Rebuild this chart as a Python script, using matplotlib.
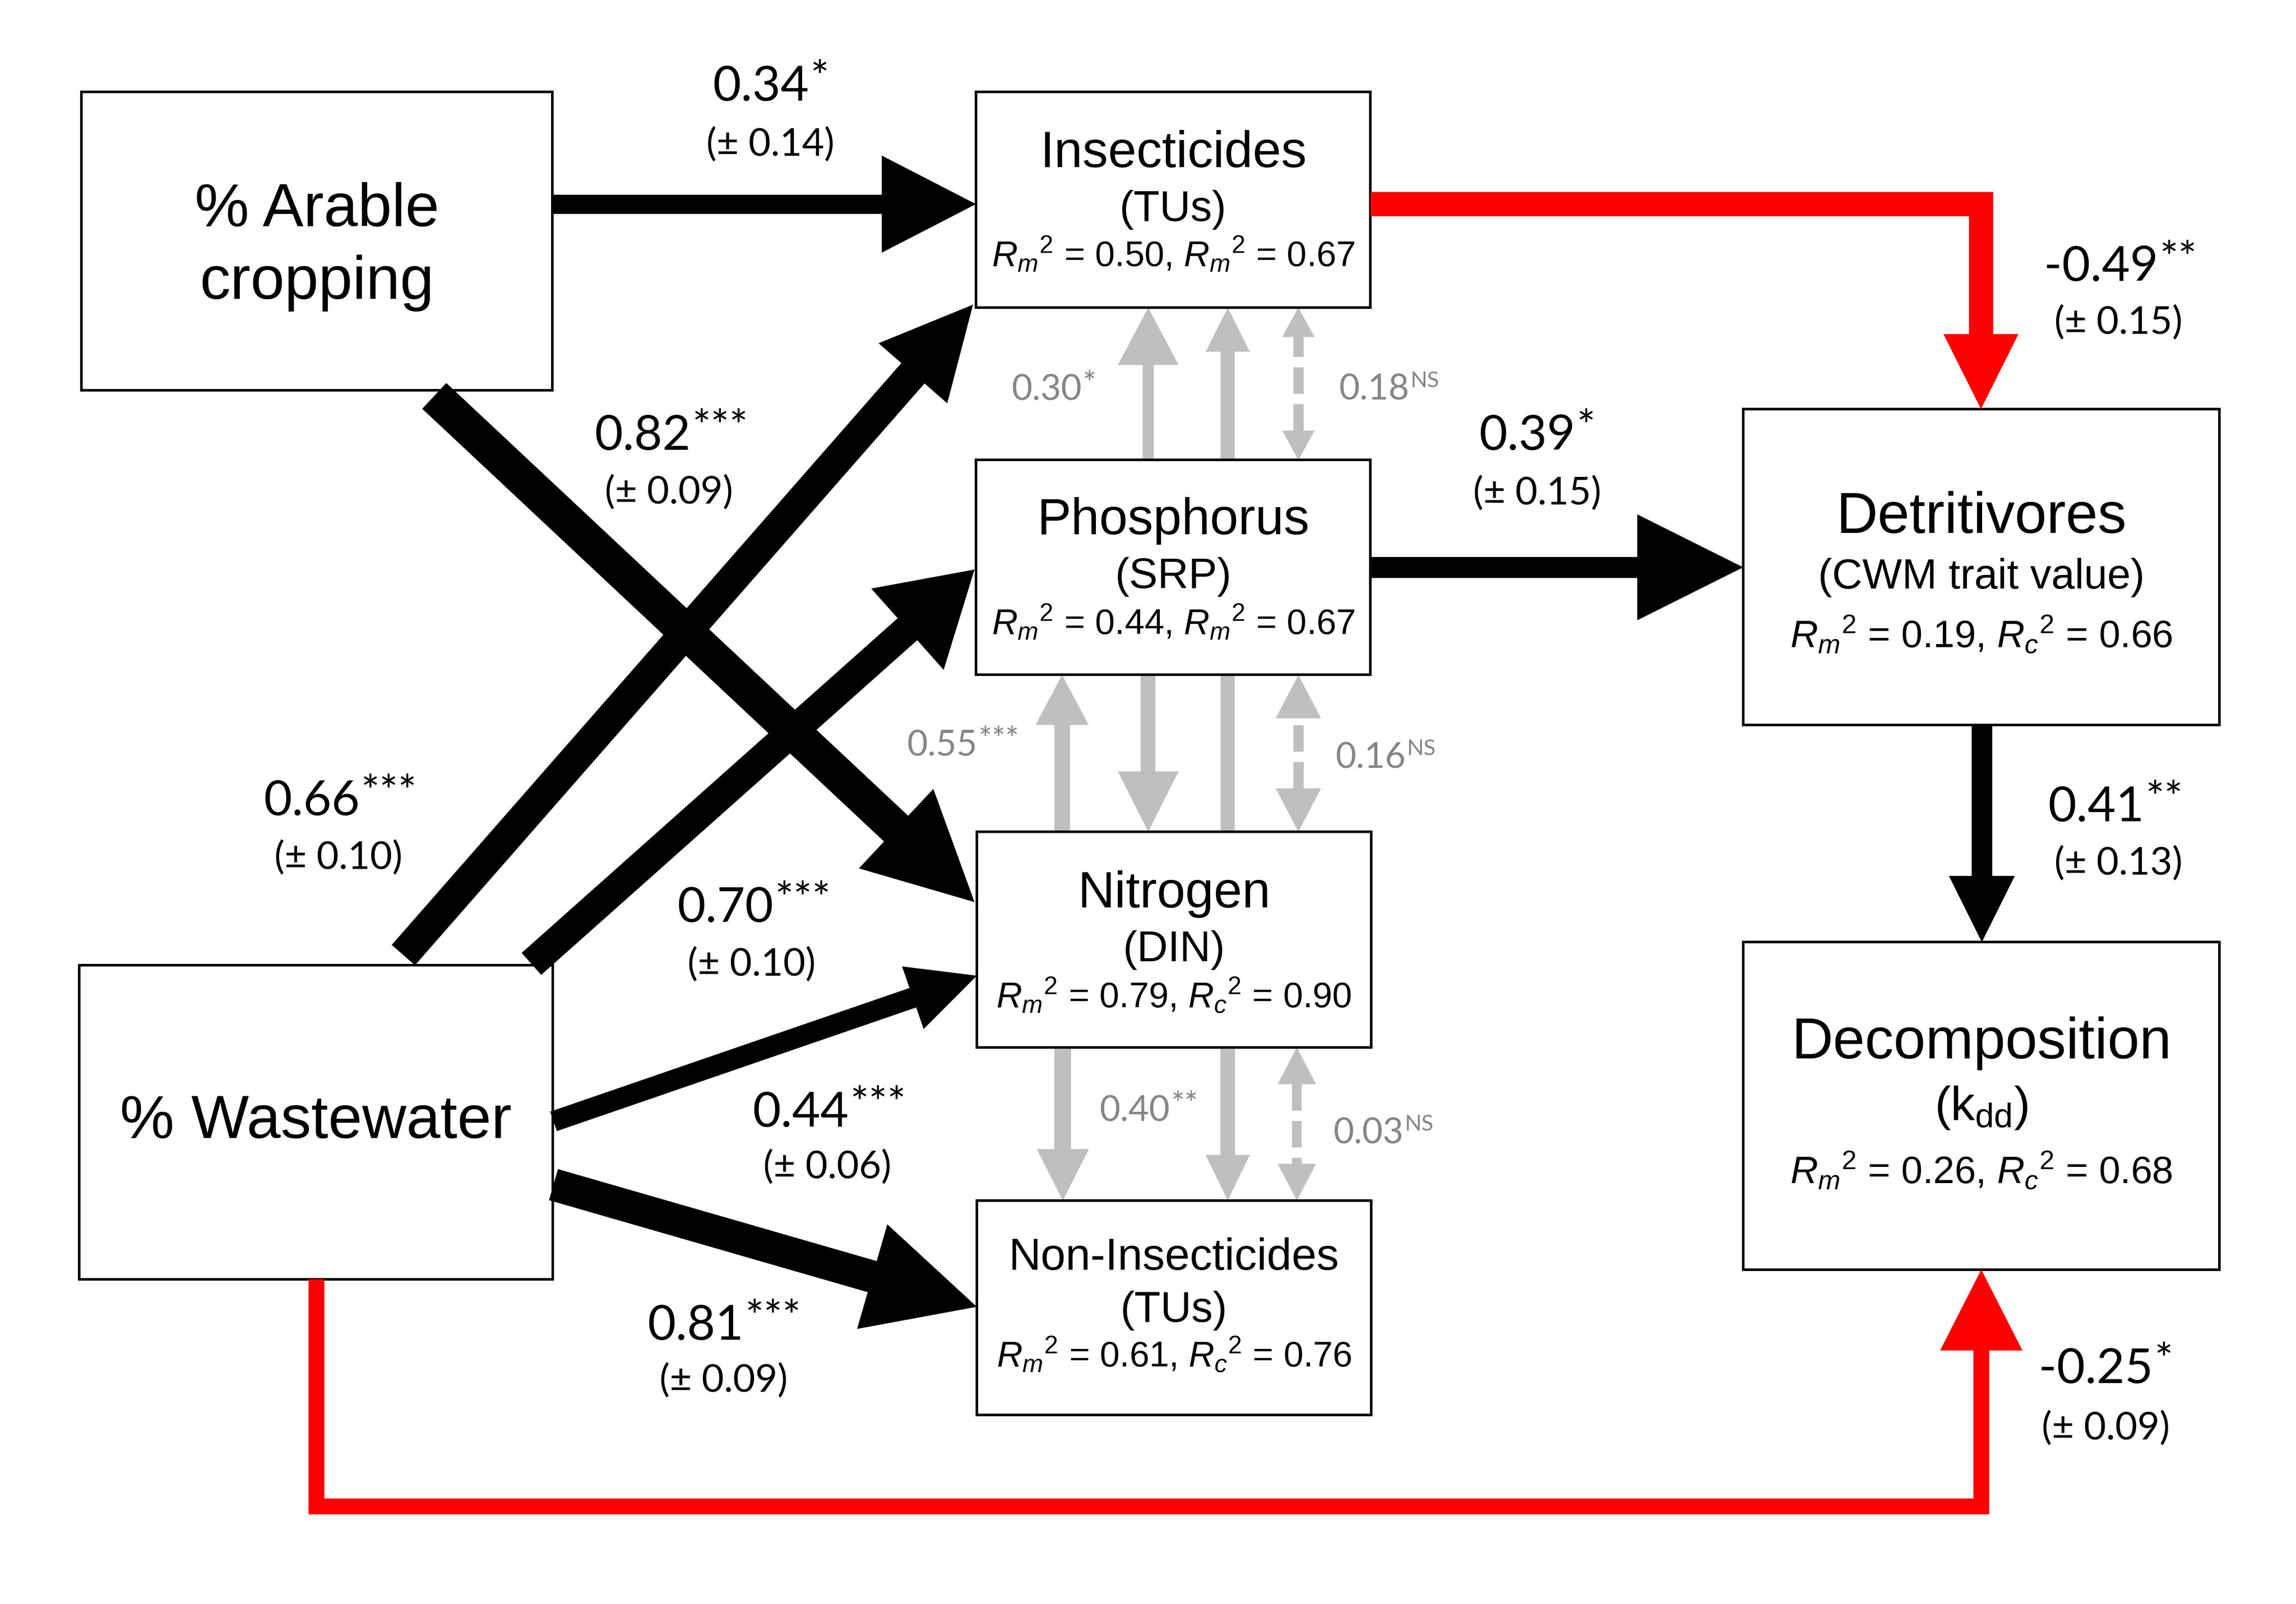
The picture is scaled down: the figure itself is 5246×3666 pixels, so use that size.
import numpy as np
import matplotlib
matplotlib.use('Agg')
import matplotlib.pyplot as plt
from matplotlib.patches import Polygon, Rectangle

# ---- values ----
node_keys = ['arable', 'wastewater', 'insecticides', 'phosphorus',
             'nitrogen', 'noninsecticides', 'detritivores', 'decomposition']
node_titles = ['% Arable\ncropping', '% Wastewater', 'Insecticides', 'Phosphorus',
               'Nitrogen', 'Non-Insecticides', 'Detritivores', 'Decomposition']
node_units = ['', '', '(TUs)', '(SRP)', '(DIN)', '(TUs)', '(CWM trait value)',
              r'(k$_{\mathrm{dd}}$)']
r2_marginal = [None, None, 0.50, 0.44, 0.79, 0.61, 0.19, 0.26]
r2_conditional = [None, None, 0.67, 0.67, 0.90, 0.76, 0.66, 0.68]
r2_second_sub = ['', '', 'm', 'm', 'c', 'c', 'c', 'c']  # original repeats R_m in two boxes

path_from = ['arable', 'arable', 'wastewater', 'wastewater', 'wastewater',
             'wastewater', 'insecticides', 'phosphorus', 'detritivores', 'wastewater']
path_to = ['insecticides', 'nitrogen', 'insecticides', 'phosphorus', 'nitrogen',
           'noninsecticides', 'detritivores', 'detritivores', 'decomposition', 'decomposition']
path_coef = [0.34, 0.82, 0.66, 0.70, 0.44, 0.81, -0.49, 0.39, 0.41, -0.25]
path_se = [0.14, 0.09, 0.10, 0.10, 0.06, 0.09, 0.15, 0.15, 0.13, 0.09]
path_sig = ['*', '***', '***', '***', '***', '***', '**', '*', '**', '*']

corr_coef = [0.30, 0.18, 0.55, 0.16, 0.40, 0.03]
corr_sig = ['*', 'NS', '***', 'NS', '**', 'NS']

# ---- layout (units = pixels of a 1560 wide drawing) ----
W_PX, H_PX, DPI = 5247, 3666, 300
W = 1560.0
H = W * H_PX / W_PX
PT = (W_PX / DPI * 72) / W      # points per layout unit

node_layout = {
    'arable':          dict(box=(55.3, 62.5, 375.3, 265.2), title=([91.1, 140.5], 33.5)),
    'wastewater':      dict(box=(53.7, 655.9, 375.5, 869.4), title=([117.5], 33.5)),
    'insecticides':    dict(box=(663.0, 62.5, 931.0, 209.0), title=([51.0], 28), unit=(87.5, 23.5), r2=(118.5, 19.5)),
    'phosphorus':      dict(box=(663.0, 312.6, 931.0, 458.6), title=([50.5], 28), unit=(87.0, 23.5), r2=(118.5, 19.5)),
    'nitrogen':        dict(box=(663.6, 565.2, 931.4, 711.7), title=([51.5], 28), unit=(88.0, 23.5), r2=(119.5, 19.5)),
    'noninsecticides': dict(box=(663.6, 815.8, 931.4, 961.4), title=([47.0], 24.5), unit=(82.5, 23.5), r2=(113.0, 19.5)),
    'detritivores':    dict(box=(1184.2, 278.0, 1507.6, 492.5), title=([84.0], 31.5), unit=(122.0, 23), r2=(162.0, 21)),
    'decomposition':   dict(box=(1184.2, 640.2, 1507.6, 862.7), title=([79.0], 31.5), unit=(121.0, 26.5), r2=(164.0, 21)),
}

path_layout = [
    dict(route=[(375.3, 138.7), (663.0, 138.7)], width=13.0, head=(33.0, 64.0), num=(517.0, 68.4), se=(523.3, 106.0)),
    dict(route=[(295.0, 269.0), (662.0, 613.0)], width=24.0, head=(37.0, 73.0), num=(436.5, 305.5), se=(454.4, 342.3)),
    dict(route=[(274.0, 649.0), (661.0, 207.0)], width=21.0, head=(31.0, 62.0), num=(211.7, 554.0), se=(229.9, 590.5)),
    dict(route=[(361.0, 655.0), (662.0, 387.0)], width=20.0, head=(37.0, 61.0), num=(492.7, 626.5), se=(510.7, 663.0)),
    dict(route=[(376.0, 762.0), (663.6, 663.0)], width=14.0, head=(22.5, 46.0), num=(544.0, 765.6), se=(562.0, 800.8)),
    dict(route=[(376.0, 805.0), (663.6, 888.0)], width=22.0, head=(37.0, 74.0), num=(472.5, 910.5), se=(491.5, 945.7)),
    dict(route=[(931.0, 138.6), (1345.7, 138.6), (1345.7, 278.0)], width=16.5, head=(25.5, 51.0), num=(1427.3, 191.0), se=(1439.0, 227.0)),
    dict(route=[(931.0, 385.5), (1184.2, 385.5)], width=14.3, head=(36.0, 72.0), num=(1037.4, 305.5), se=(1044.3, 343.0)),
    dict(route=[(1346.3, 492.5), (1346.3, 640.2)], width=14.0, head=(22.4, 45.0), num=(1424.0, 558.0), se=(1439.0, 594.4)),
    dict(route=[(215.0, 869.4), (215.0, 1023.5), (1345.9, 1023.5), (1345.9, 862.7)], width=10.8, head=(28.0, 55.0), num=(1423.7, 939.9), se=(1430.5, 978.2)),
]

# x, tail y, tip y, shaft width, head half width, head length, kind
grey_arrows = [
    (780.0, 312.6, 209.0, 7.5, 20.6, 39.0, 'single'),
    (834.0, 312.6, 209.0, 9.6, 15.0, 30.0, 'single'),
    (882.0, 312.6, 209.0, 7.0, 11.0, 20.0, 'double'),
    (721.5, 565.2, 458.6, 10.6, 18.0, 34.0, 'single'),
    (780.0, 458.6, 565.2, 10.0, 20.6, 41.0, 'single'),
    (834.0, 458.6, 565.2, 9.6, 0.0, 0.0, 'line'),
    (882.0, 565.2, 458.6, 7.0, 15.4, 29.5, 'double'),
    (722.0, 711.7, 815.8, 11.4, 17.7, 35.0, 'single'),
    (834.0, 711.7, 815.8, 10.0, 15.0, 31.0, 'single'),
    (881.0, 711.7, 815.8, 6.6, 13.0, 25.0, 'double'),
]
corr_layout = [(711.0, 272.0), (933.5, 271.7), (640.0, 513.6),
               (931.0, 522.0), (771.0, 761.8), (929.5, 777.0)]

BOX_FONT = ['Liberation Sans', 'DejaVu Sans']
LABEL_FONT = ['Lato', 'DejaVu Sans']
GREY_ARROW = '#BFBFBF'
GREY_TEXT = '#868686'

plt.rcParams['mathtext.fontset'] = 'custom'
plt.rcParams['mathtext.rm'] = 'Liberation Sans'
plt.rcParams['mathtext.it'] = 'Liberation Sans:italic'
plt.rcParams['mathtext.bf'] = 'Liberation Sans:bold'

fig = plt.figure(figsize=(W_PX / DPI, H_PX / DPI), dpi=DPI)
ax = fig.add_axes([0, 0, 1, 1])
ax.set_xlim(0, W)
ax.set_ylim(H, 0)
ax.axis('off')
renderer = fig.canvas.get_renderer()


def head_triangle(tip, u, half_w, length, color, z):
    tip = np.asarray(tip, float)
    n = np.array([-u[1], u[0]])
    base = tip - u * length
    ax.add_patch(Polygon([tip, base + n * half_w, base - n * half_w],
                         closed=True, fc=color, ec='none', zorder=z))


def arrow(route, width, half_w, length, color, z=4, both=False, dashed=False):
    pts = np.asarray(route, float)
    shaft = pts.copy()
    u_end = pts[-1] - pts[-2]
    u_end /= np.hypot(*u_end)
    u_start = pts[0] - pts[1]
    u_start /= np.hypot(*u_start)
    if length > 0:
        shaft[-1] = pts[-1] - u_end * length * (1.0 if dashed else 0.6)
        if both:
            shaft[0] = pts[0] - u_start * length * (1.0 if dashed else 0.6)
    ls = (0, (18.0 / width, 7.0 / width)) if dashed else '-'
    ax.plot(shaft[:, 0], shaft[:, 1], color=color, lw=width * PT, ls=ls,
            solid_capstyle='butt', dash_capstyle='butt',
            solid_joinstyle='miter', zorder=z)
    if length > 0:
        head_triangle(pts[-1], u_end, half_w, length, color, z)
        if both:
            head_triangle(pts[0], u_start, half_w, length, color, z)


def label_with_sup(x, y, main, sup, size, color):
    t = ax.text(x, y, main, ha='center', va='baseline', fontsize=size,
                color=color, family=LABEL_FONT, zorder=6)
    bb = t.get_window_extent(renderer).transformed(ax.transData.inverted())
    em = size / PT
    if '*' in sup:
        sup_size, rise = size * 0.9, 0.17 * em
    else:
        sup_size, rise = size * 0.62, 0.36 * em
    ax.text(max(bb.x0, bb.x1) + 0.03 * em, y - rise, sup, ha='left',
            va='baseline', fontsize=sup_size, color=color,
            family=LABEL_FONT, zorder=6)


# boxes and their text
for i, key in enumerate(node_keys):
    lay = node_layout[key]
    x0, y0, x1, y1 = lay['box']
    ax.add_patch(Rectangle((x0, y0), x1 - x0, y1 - y0, fc='white', ec='black',
                           lw=1.4, zorder=3))
    xc = (x0 + x1) / 2
    offsets, size = lay['title']
    for line, off in zip(node_titles[i].split('\n'), offsets):
        ax.text(xc, y0 + off, line, ha='center', va='baseline', fontsize=size,
                family=BOX_FONT, zorder=5)
    if 'unit' in lay:
        off, size = lay['unit']
        ax.text(xc, y0 + off, node_units[i], ha='center', va='baseline',
                fontsize=size, family=BOX_FONT, zorder=5)
        off, size = lay['r2']
        r2 = (r'$R_m$$^{2}$ = %.2f, $R_%s$$^{2}$ = %.2f'
              % (r2_marginal[i], r2_second_sub[i], r2_conditional[i]))
        ax.text(xc, y0 + off, r2, ha='center', va='baseline', fontsize=size,
                family=BOX_FONT, zorder=5)

# grey correlation arrows
for x, ya, yb, w, hw, hl, kind in grey_arrows:
    arrow([(x, ya), (x, yb)], w, hw, hl, GREY_ARROW, z=2,
          both=(kind == 'double'), dashed=(kind == 'double'))

for (x, y), c, s in zip(corr_layout, corr_coef, corr_sig):
    label_with_sup(x, y, '%.2f' % c, s, 19.5, GREY_TEXT)

# path coefficients
for lay, c, se, s in zip(path_layout, path_coef, path_se, path_sig):
    color = '#FF0000' if c < 0 else 'black'
    arrow(lay['route'], lay['width'], lay['head'][0], lay['head'][1], color, z=4)
    label_with_sup(lay['num'][0], lay['num'][1], '%.2f' % c, s, 26.7, 'black')
    ax.text(lay['se'][0], lay['se'][1], '(± %.2f)' % se, ha='center',
            va='baseline', fontsize=21, family=LABEL_FONT, zorder=6)

fig.savefig('out.png', dpi=DPI, facecolor='white')
